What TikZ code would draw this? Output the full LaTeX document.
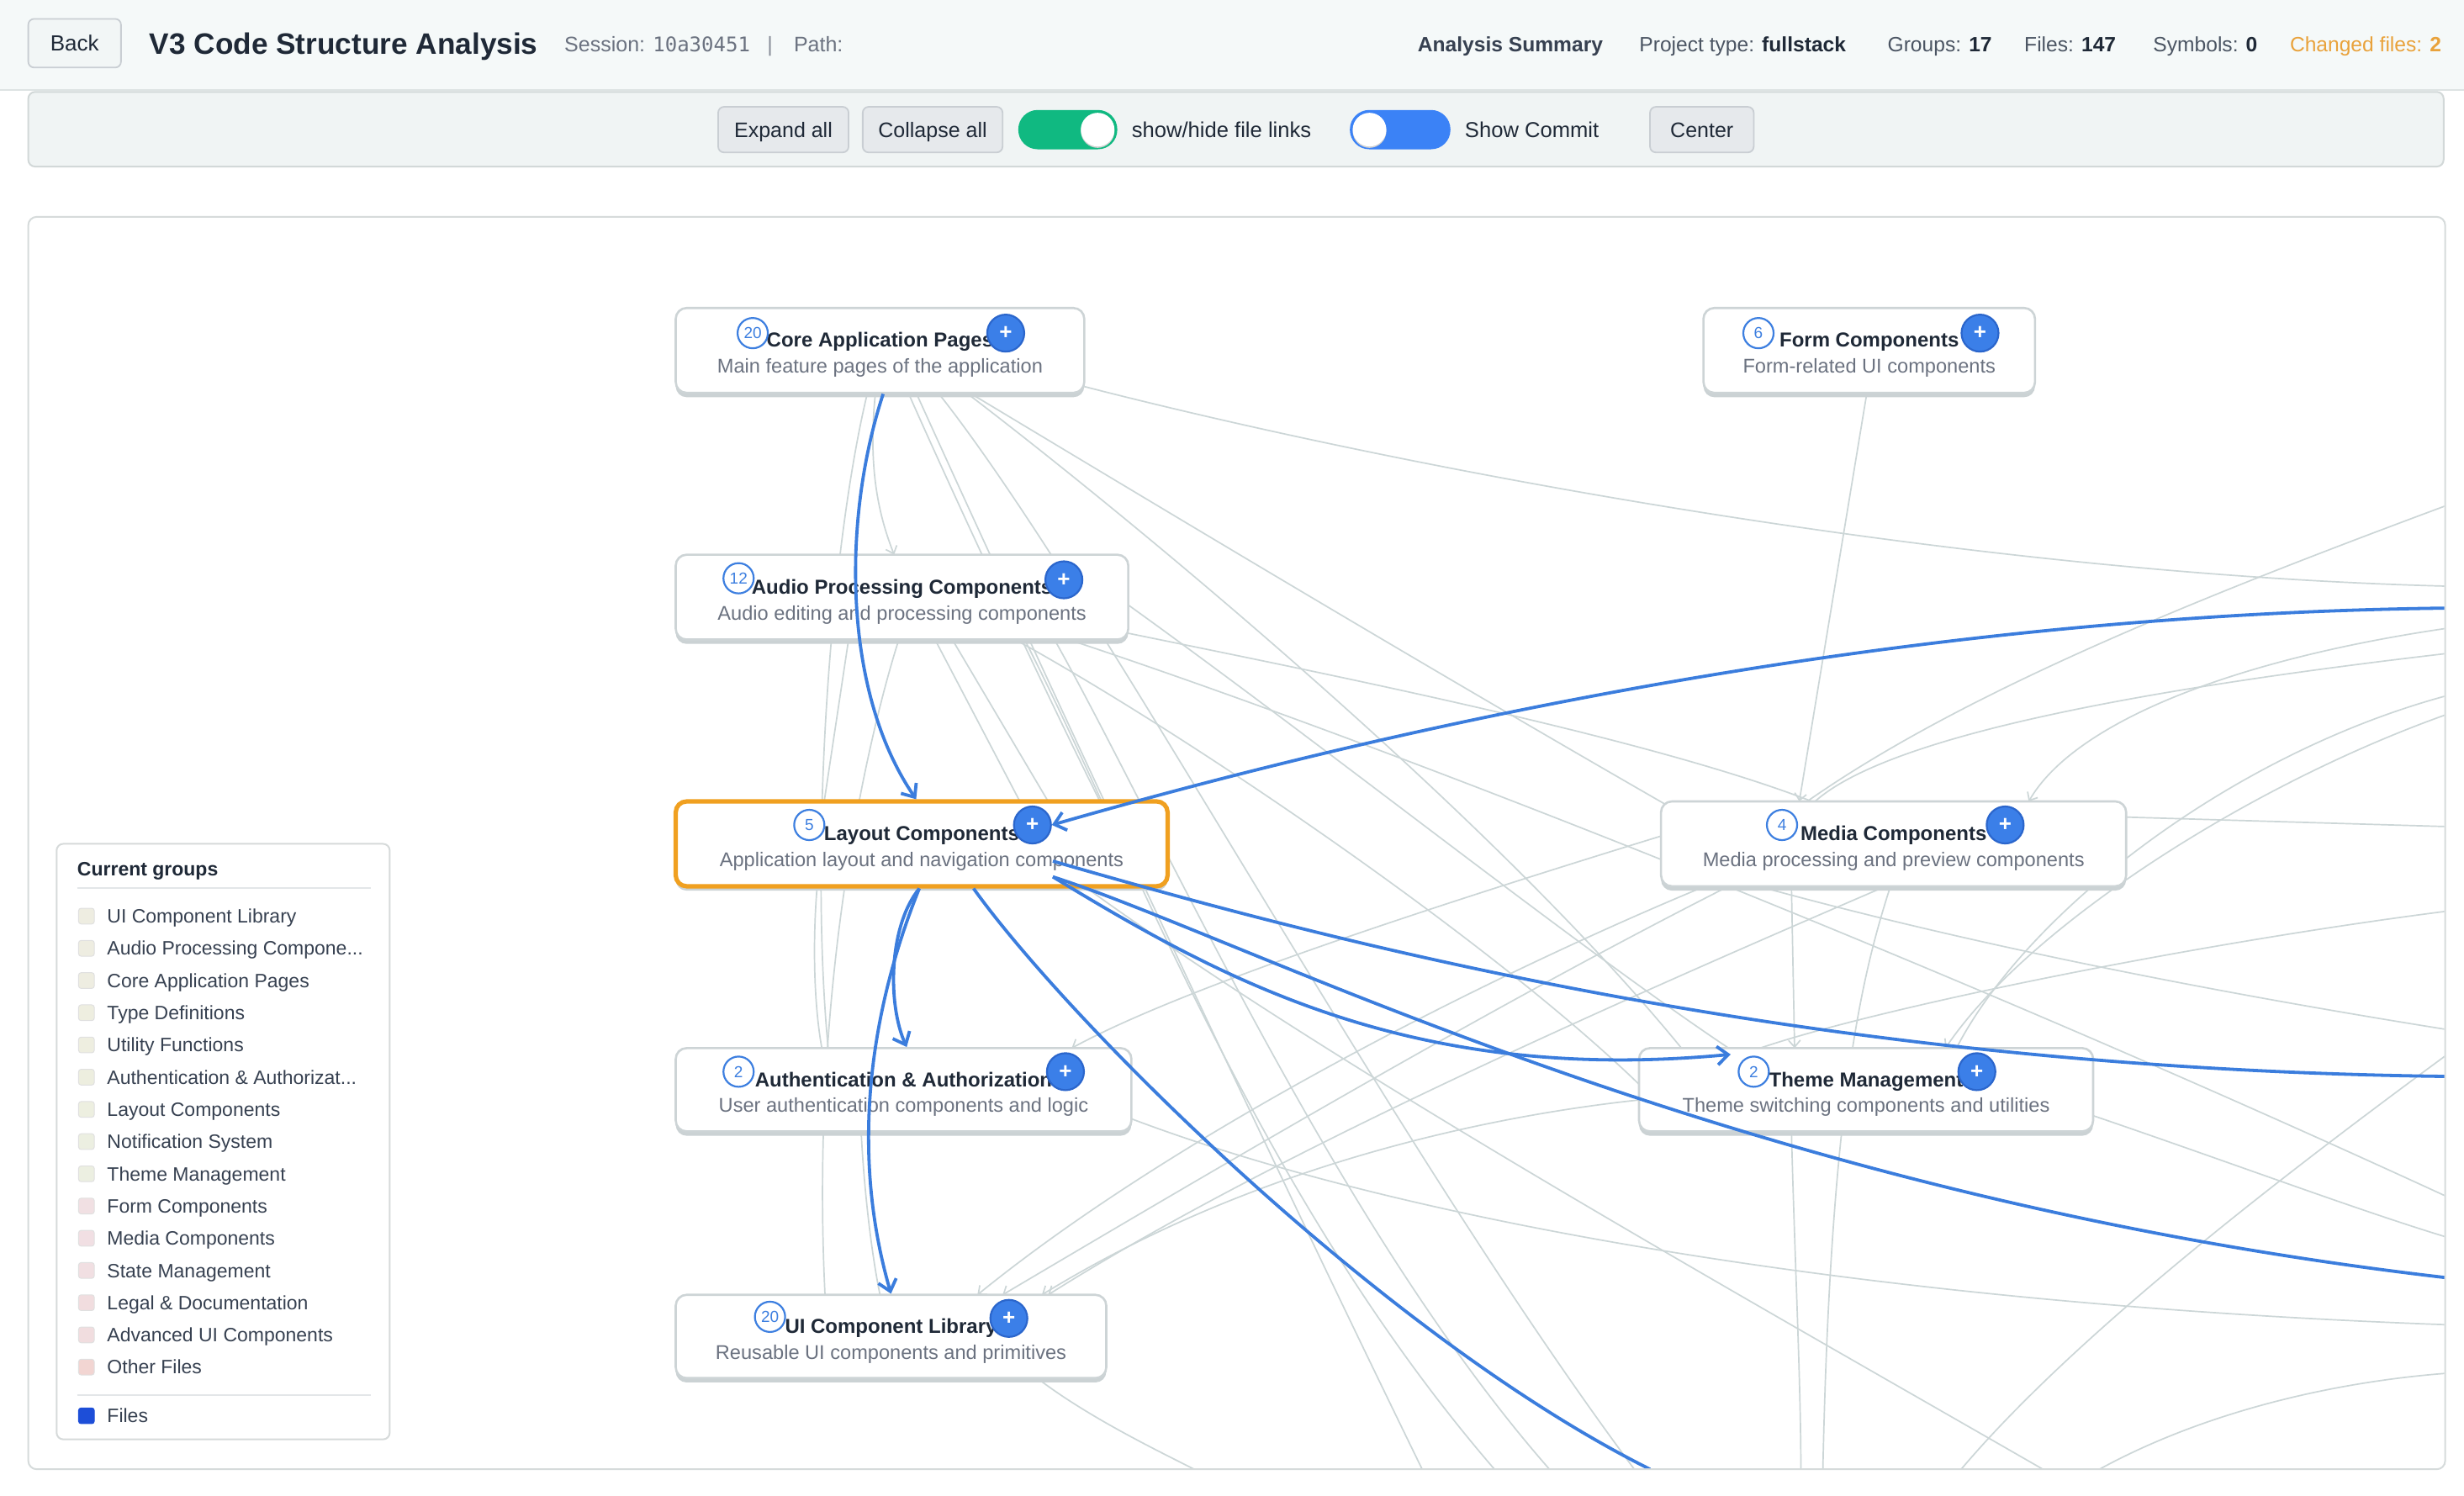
\documentclass[tikz,border=0pt]{standalone}
\usepackage{fontspec}
\setmainfont{Liberation Sans}
\newfontfamily\monof{DejaVu Sans Mono}
\usetikzlibrary{calc,arrows.meta,shadows}
\pgfdeclarelayer{back}
\pgfdeclarelayer{lines}
\pgfdeclarelayer{front}
\pgfsetlayers{back,lines,main,front}
\newcommand{\fsz}[1]{\fontsize{#1}{#1}\selectfont}
\newcommand{\tdots}{...}
\def\pxu{0.9343pt}
\definecolor{hdrbg}{HTML}{F5F9F9}
\definecolor{hdrline}{HTML}{DDE3E3}
\definecolor{tbf}{HTML}{F0F4F4}
\definecolor{tbb}{HTML}{D2D8D8}
\definecolor{btnf}{HTML}{E6E9EC}
\definecolor{btnb}{HTML}{C9CED3}
\definecolor{backf}{HTML}{F2F6F6}
\definecolor{togg}{HTML}{10B981}
\definecolor{togb}{HTML}{3B82F6}
\definecolor{canb}{HTML}{D6DBDB}
\definecolor{edgec}{HTML}{CCD6D7}
\definecolor{bluec}{HTML}{3B7DDD}
\definecolor{nodeb}{HTML}{CDD4D6}
\definecolor{nodesh}{HTML}{CBD2D4}
\definecolor{ttlc}{HTML}{1F2937}
\definecolor{subc}{HTML}{6B7280}
\definecolor{labc}{HTML}{4B5563}
\definecolor{legc}{HTML}{374151}
\definecolor{orng}{HTML}{F0A020}
\definecolor{chgc}{HTML}{E9A23B}
\definecolor{badgec}{HTML}{3D7FE0}
\definecolor{plusc}{HTML}{3B7FE8}
\definecolor{plusd}{HTML}{2B66CC}
\definecolor{filesc}{HTML}{1D4ED8}
\definecolor{legb}{HTML}{D6DADA}
\definecolor{rulec}{HTML}{E3E6E8}
\definecolor{lg1}{HTML}{EEEDE1}
\definecolor{lg2}{HTML}{EEEDE1}
\definecolor{lg3}{HTML}{EEEDE1}
\definecolor{lg4}{HTML}{EEEEE0}
\definecolor{lg5}{HTML}{EEEEE0}
\definecolor{lg6}{HTML}{EDEEDF}
\definecolor{lg7}{HTML}{EDEFE0}
\definecolor{lg8}{HTML}{ECEFE1}
\definecolor{lg9}{HTML}{ECEFE1}
\definecolor{lg10}{HTML}{F1E0E3}
\definecolor{lg11}{HTML}{F1DFE3}
\definecolor{lg12}{HTML}{F1DFE2}
\definecolor{lg13}{HTML}{F1DDDF}
\definecolor{lg14}{HTML}{F1DDDF}
\definecolor{lg15}{HTML}{F2D5D2}
\begin{document}
\begin{tikzpicture}[x=0.9343pt,y=-0.9343pt,
  grp/.style={draw=nodeb, line width=1.3pt, fill=white, rounded corners=6.5pt, inner sep=0pt,
    drop shadow={shadow xshift=0pt, shadow yshift=-2.6pt, fill=nodesh, opacity=1}},
  ttl/.style={anchor=base, inner sep=0pt, text=ttlc, font=\bfseries\fsz{12}},
  sub/.style={anchor=base, inner sep=0pt, text=subc, font=\fsz{11.8}},
  badge/.style={circle, draw=badgec, line width=1.1pt, minimum size=18pt, inner sep=0pt, text=badgec, font=\fsz{9.5}},
  plusb/.style={circle, draw=plusd, line width=1.1pt, fill=plusc, minimum size=22pt, inner sep=0pt, text=white, font=\bfseries\fsz{13}},
  gedge/.style={draw=edgec, line width=0.85pt},
  garr/.style={gedge, -{Straight Barb[length=4pt,width=7pt]}},
  bedge/.style={draw=bluec, line width=1.9pt},
  barr/.style={bedge, -{Straight Barb[length=6.5pt,width=11pt]}},
  btn/.style={draw=btnb, fill=btnf, rounded corners=3.5pt, line width=0.9pt, inner sep=0pt,
    font=\fsz{12.5}, text=ttlc, text height=8.95pt, text depth=0pt},
  hdr/.style={anchor=base west, inner sep=0pt, font=\fsz{12.3}, text=labc},
  legsq/.style={rectangle, rounded corners=1.5pt, minimum size=10*\pxu, inner sep=0pt, draw=black!12, line width=0.5pt},
  legtxt/.style={anchor=base west, inner sep=0pt, font=\fsz{11.5}, text=legc}
]
\useasboundingbox (0,0) rectangle (1568,951.6);

% ---------- background, header, toolbar, canvas ----------
\begin{pgfonlayer}{back}
\fill[white] (0,0) rectangle (1568,951.6);
\fill[hdrbg] (0,0) rectangle (1568,57);
\draw[hdrline, line width=1pt] (0,57) -- (1568,57);
\draw[tbb, fill=tbf, rounded corners=4pt, line width=1pt] (18,58.5) rectangle (1555,106);
\draw[canb, fill=white, rounded corners=5pt, line width=1pt] (18,138) rectangle (1556,935);
\end{pgfonlayer}

% header
\node[btn, fill=backf, font=\fsz{13}, text height=9.3pt, minimum width=59*\pxu, minimum height=31*\pxu] (back) at (47.5,27.5) {Back};
\node[anchor=base west, inner sep=0pt, font=\bfseries\fsz{17.6}, text=ttlc] (title) at (95,34.7) {V3 Code Structure Analysis};
\node[anchor=base west, inner sep=0pt, font=\fsz{12.5}, text=subc] (session) at (359,32.8) {Session: {\monof\fsz{12}10a30451}};
\node[anchor=base, inner sep=0pt, font=\fsz{12.5}, text=subc!80] (sepbar) at (490,32.8) {|};
\node[anchor=base west, inner sep=0pt, font=\fsz{12.5}, text=subc] (path) at (505,32.8) {Path:};
\node[hdr, text=legc] (sumA) at (902,32.7) {\bfseries Analysis Summary};
\node[hdr] (sumB) at (1043,32.7) {Project type: \textbf{\color{ttlc}fullstack}};
\node[hdr] (sumC) at (1201,32.7) {Groups: \textbf{\color{ttlc}17}};
\node[hdr] (sumD) at (1288,32.7) {Files: \textbf{\color{ttlc}147}};
\node[hdr] (sumE) at (1370,32.7) {Symbols: \textbf{\color{ttlc}0}};
\node[hdr, text=chgc] (sumF) at (1457,32.7) {Changed files: \textbf{2}};

% toolbar
\node[btn, minimum width=83*\pxu, minimum height=29*\pxu] (expand) at (498.5,82.5) {Expand all};
\node[btn, minimum width=89*\pxu, minimum height=29*\pxu] (collapse) at (593.5,82.5) {Collapse all};
\fill[togg, rounded corners=11.5pt] (648,70) rectangle (711,95);
\fill[black!18] (698.5,83.4) circle[radius=10pt];
\fill[white] (698.5,82.5) circle[radius=10pt];
\node[anchor=base west, inner sep=0pt, font=\fsz{12.8}, text=ttlc] (showhide) at (720,87.4) {show/hide file links};
\fill[togb, rounded corners=11.5pt] (859,70) rectangle (923,95);
\fill[black!18] (871.5,83.4) circle[radius=10pt];
\fill[white] (871.5,82.5) circle[radius=10pt];
\node[anchor=base west, inner sep=0pt, font=\fsz{12.8}, text=ttlc] (showcommit) at (932,87.4) {Show Commit};
\node[btn, minimum width=66*\pxu, minimum height=29*\pxu] (center) at (1083,82.5) {Center};

% ---------- group nodes ----------
\node[grp, minimum width=260*\pxu, minimum height=54*\pxu] (core) at (560,223) {};
\node[ttl] (coreT) at ($(core.center)+(0,-2)$) {Core Application Pages};
\node[sub] (coreS) at ($(core.center)+(0,14.5)$) {Main feature pages of the application};
\node[badge] (coreB) at (479,212) {20};
\node[plusb] (coreP) at (640,212) {+};

\node[grp, minimum width=288*\pxu, minimum height=54*\pxu] (audio) at (574,380) {};
\node[ttl] (audioT) at ($(audio.center)+(0,-2)$) {Audio Processing Components};
\node[sub] (audioS) at ($(audio.center)+(0,14.5)$) {Audio editing and processing components};
\node[badge] (audioB) at (470,368) {12};
\node[plusb] (audioP) at (677,369) {+};

\node[grp, draw=orng, line width=2.6pt, minimum width=313*\pxu, minimum height=54*\pxu] (layout) at (586.5,537) {};
\node[ttl] (layoutT) at ($(layout.center)+(0,-2)$) {Layout Components};
\node[sub] (layoutS) at ($(layout.center)+(0,14.5)$) {Application layout and navigation components};
\node[badge] (layoutB) at (515,525) {5};
\node[plusb] (layoutP) at (657,525) {+};

\node[grp, minimum width=290*\pxu, minimum height=53*\pxu] (auth) at (575,693.5) {};
\node[ttl] (authT) at ($(auth.center)+(0,-2)$) {Authentication \& Authorization};
\node[sub] (authS) at ($(auth.center)+(0,14.5)$) {User authentication components and logic};
\node[badge] (authB) at (470,682) {2};
\node[plusb] (authP) at (678,682) {+};

\node[grp, minimum width=274*\pxu, minimum height=53*\pxu] (uilib) at (567,850.5) {};
\node[ttl] (uilibT) at ($(uilib.center)+(0,-2)$) {UI Component Library};
\node[sub] (uilibS) at ($(uilib.center)+(0,14.5)$) {Reusable UI components and primitives};
\node[badge] (uilibB) at (490,838) {20};
\node[plusb] (uilibP) at (642,839) {+};

\node[grp, minimum width=211*\pxu, minimum height=54*\pxu] (form) at (1189.5,223) {};
\node[ttl] (formT) at ($(form.center)+(0,-2)$) {Form Components};
\node[sub] (formS) at ($(form.center)+(0,14.5)$) {Form-related UI components};
\node[badge] (formB) at (1119,212) {6};
\node[plusb] (formP) at (1260,212) {+};

\node[grp, minimum width=296*\pxu, minimum height=54*\pxu] (media) at (1205,537) {};
\node[ttl] (mediaT) at ($(media.center)+(0,-2)$) {Media Components};
\node[sub] (mediaS) at ($(media.center)+(0,14.5)$) {Media processing and preview components};
\node[badge] (mediaB) at (1134,525) {4};
\node[plusb] (mediaP) at (1276,525) {+};

\node[grp, minimum width=289*\pxu, minimum height=53*\pxu] (theme) at (1187.5,693.5) {};
\node[ttl] (themeT) at ($(theme.center)+(0,-2)$) {Theme Management};
\node[sub] (themeS) at ($(theme.center)+(0,14.5)$) {Theme switching components and utilities};
\node[badge] (themeB) at (1116,682) {2};
\node[plusb] (themeP) at (1258,682) {+};

% ---------- free ends at the canvas border ----------
\coordinate (rA) at (1556,322);
\coordinate (rB) at (1556,373);
\coordinate (rC) at (1556,400);
\coordinate (rD) at (1556,416);
\coordinate (rE) at (1556,443);
\coordinate (rF) at (1556,455);
\coordinate (rG) at (1556,526);
\coordinate (rH) at (1556,580);
\coordinate (rI) at (1556,655);
\coordinate (rJ) at (1556,672);
\coordinate (rK) at (1556,761);
\coordinate (rL) at (1556,787);
\coordinate (rM) at (1556,843);
\coordinate (rN) at (1556,874);
\coordinate (bA) at (760,935);
\coordinate (bB0) at (905,935);
\coordinate (bB) at (951,935);
\coordinate (bC) at (986,935);
\coordinate (bD) at (1040,935);
\coordinate (bE) at (1146,935);
\coordinate (bF) at (1160,935);
\coordinate (bG) at (1248,935);
\coordinate (bH) at (1336,935);
\coordinate (bI) at (1300,935);
\coordinate (bR) at (1556,387);
\coordinate (bR2) at (1556,685);
\coordinate (bR3) at (1556,813);
\coordinate (bX) at (1050,935);

% ---------- grey file links ----------
\begin{pgfonlayer}{lines}
\begin{scope}
\clip[rounded corners=5pt] (18.5,138.5) rectangle (1555.5,934.5);
\draw[gedge] ($(core.center)+(130,23)$) .. controls (900,300) and (1250,365) .. (rB);
\draw[gedge] ($(core.center)+(-8,27)$) .. controls (528,350) and (515,540) .. ($(auth.center)+(-48,-26.5)$);
\draw[garr] ($(core.center)+(-3,28)$) .. controls (552,300) and (560,330) .. ($(audio.center)+(-5,-27)$);
\draw[gedge] ($(core.center)+(18,27)$) .. controls (600,300) and (660,430) .. ($(layout.center)+(113.5,-27)$);
\draw[gedge] ($(core.center)+(23,27)$) .. controls (660,420) and (800,720) .. (bB0);
\draw[gedge] ($(core.center)+(37,27)$) .. controls (700,380) and (880,720) .. (bD);
\draw[gedge] ($(core.center)+(55,27)$) .. controls (720,330) and (950,520) .. ($(theme.center)+(-117.5,-26.5)$);
\draw[gedge] ($(core.center)+(57,27)$) .. controls (750,330) and (900,420) .. ($(media.center)+(-145,-25)$);
\draw[gedge] ($(audio.center)+(-2,27)$) .. controls (555,460) and (515,620) .. ($(uilib.center)+(-42,-26.5)$);
\draw[gedge] ($(audio.center)+(21,27)$) -- ($(layout.center)+(62.5,-27)$);
\draw[gedge] ($(audio.center)+(32,27)$) -- ($(layout.center)+(80.5,-27)$);
\draw[gedge] ($(audio.center)+(72,27)$) .. controls (760,470) and (950,600) .. ($(theme.center)+(-144.5,-3.5)$);
\draw[gedge] ($(audio.center)+(78,27)$) .. controls (720,540) and (800,760) .. (bB);
\draw[gedge] ($(audio.center)+(97,27)$) .. controls (740,530) and (850,780) .. (bC);
\draw[gedge] ($(audio.center)+(106,27)$) .. controls (900,480) and (1250,620) .. (rK);
\draw[gedge] ($(audio.center)+(144,5)$) .. controls (850,480) and (1000,600) .. ($(theme.center)+(-87.5,-26.5)$);
\draw[gedge] ($(audio.center)+(144,23)$) .. controls (850,430) and (1050,470) .. ($(media.center)+(-52,-27)$);
\draw[gedge] (rA) .. controls (1400,380) and (1250,440) .. ($(media.center)+(-55,-27)$);
\draw[garr] (rC) .. controls (1420,420) and (1320,460) .. ($(media.center)+(86,-27)$);
\draw[gedge] (rD) .. controls (1350,440) and (1200,470) .. ($(media.center)+(-50,-27)$);
\draw[gedge] (rE) .. controls (1420,480) and (1290,580) .. ($(theme.center)+(57.5,-26.5)$);
\draw[garr] (rF) .. controls (1430,500) and (1290,590) .. ($(theme.center)+(50.5,-26.5)$);
\draw[gedge] ($(media.center)+(148,-17)$) -- (rG);
\draw[gedge] (rH) .. controls (1400,600) and (1200,640) .. ($(theme.center)+(-67.5,-26.5)$);
\draw[gedge] ($(media.center)+(-86,27)$) .. controls (1250,600) and (1400,630) .. (rI);
\draw[gedge] ($(theme.center)+(144.5,16.5)$) .. controls (1420,740) and (1500,770) .. (rL);
\draw[gedge] (rJ) .. controls (1450,750) and (1320,850) .. (bG);
\draw[gedge] (bH) .. controls (1400,900) and (1480,880) .. (rN);
\draw[gedge] ($(auth.center)+(145,18.5)$) .. controls (900,780) and (1200,830) .. (rM);
\draw[garr] ($(media.center)+(-120,27)$) .. controls (950,620) and (750,720) .. ($(uilib.center)+(55,-26.5)$);
\draw[garr] ($(media.center)+(-105,27)$) .. controls (950,640) and (780,740) .. ($(uilib.center)+(71,-26.5)$);
\draw[garr] ($(theme.center)+(-144.5,6.5)$) .. controls (950,710) and (800,740) .. ($(uilib.center)+(96,-26.5)$);
\draw[garr] ($(media.center)+(-5,27)$) .. controls (1000,650) and (800,740) .. ($(uilib.center)+(100,-26.5)$);
\draw[garr] ($(media.center)+(-125,-12)$) .. controls (900,580) and (750,630) .. ($(auth.center)+(107,-26.5)$);
\draw[gedge] ($(layout.center)+(103.5,27)$) .. controls (850,680) and (1100,820) .. (bI);
\draw[garr] ($(media.center)+(-65,27)$) -- ($(theme.center)+(-45.5,-26.5)$);
\draw[gedge] ($(media.center)+(-2,27)$) .. controls (1185,620) and (1165,700) .. (bF);
\draw[gedge] ($(theme.center)+(-47.5,26.5)$) .. controls (1142,800) and (1146,880) .. (bE);
\draw[gedge] ($(uilib.center)+(93,26.5)$) .. controls (690,900) and (730,920) .. (bA);
\draw[gedge] ($(auth.center)+(-27,26.5)$) .. controls (550,760) and (555,800) .. ($(uilib.center)+(-7,-26.5)$);
\draw[gedge] ($(layout.center)+(-66.5,27)$) .. controls (517,600) and (518,640) .. ($(auth.center)+(-52,-26.5)$);
\draw[gedge] ($(audio.center)+(-34,27)$) -- ($(layout.center)+(-62,-27)$);
\draw[garr] ($(form.center)+(-1.5,27)$) -- ($(media.center)+(-60,-27)$);
\end{scope}
\end{pgfonlayer}

% ---------- highlighted (blue) links ----------
\begin{pgfonlayer}{front}
\begin{scope}
\clip[rounded corners=5pt] (18.5,138.5) rectangle (1555.5,934.5);
\draw[barr] ($(core.south)+(2,0)$) .. controls (536,330) and (536,440) .. ($(layout.north)+(-3.5,0)$);
\draw[barr] (bR) .. controls (1300,390) and (1000,430) .. (layoutP.east);
\draw[barr] ($(layout.south)+(-1.5,0)$) .. controls (565,590) and (565,640) .. ($(auth.north)+(2,0)$);
\draw[barr] ($(layout.south)+(-1.5,0)$) .. controls (555,640) and (540,730) .. (uilib.north);
\draw[bedge] ($(layout.south)+(33,0)$) .. controls (680,650) and (880,850) .. (bX);
\draw[barr] ($(layout.center)+(83.5,21)$) .. controls (780,625) and (900,690) .. ($(theme.west)+(59,-22.5)$);
\draw[bedge] ($(layout.center)+(83.5,21)$) .. controls (800,600) and (1100,760) .. (bR3);
\draw[bedge] ($(layout.center)+(83.5,11)$) .. controls (850,600) and (1150,680) .. (bR2);
\end{scope}
\end{pgfonlayer}

% ---------- legend ----------
\node[draw=legb, fill=white, rounded corners=4pt, line width=1pt, inner sep=0pt,
  minimum width=212*\pxu, minimum height=379*\pxu] (legend) at (142,726.5) {};
\node[anchor=base west, inner sep=0pt, font=\bfseries\fsz{11.5}, text=ttlc] (legT) at (49,557.4) {Current groups};
\draw[rulec, line width=0.9pt] (49,565) -- (236,565);
\foreach \t [count=\i] in {UI Component Library, Audio Processing Compone\tdots, Core Application Pages,
  Type Definitions, Utility Functions, Authentication \& Authorizat\tdots, Layout Components,
  Notification System, Theme Management, Form Components, Media Components, State Management,
  Legal \& Documentation, Advanced UI Components, Other Files}{
  \node[legsq, fill=lg\i] (lsq\i) at (55,{583+(\i-1)*20.5}) {};
  \node[legtxt] (ltx\i) at (68,{587.4+(\i-1)*20.5}) {\t};
}
\draw[rulec, line width=0.9pt] (49,888) -- (236,888);
\node[legsq, fill=filesc, draw=filesc] (lsqF) at (55,901) {};
\node[legtxt] (ltxF) at (68,905.4) {Files};
\end{tikzpicture}
\end{document}
